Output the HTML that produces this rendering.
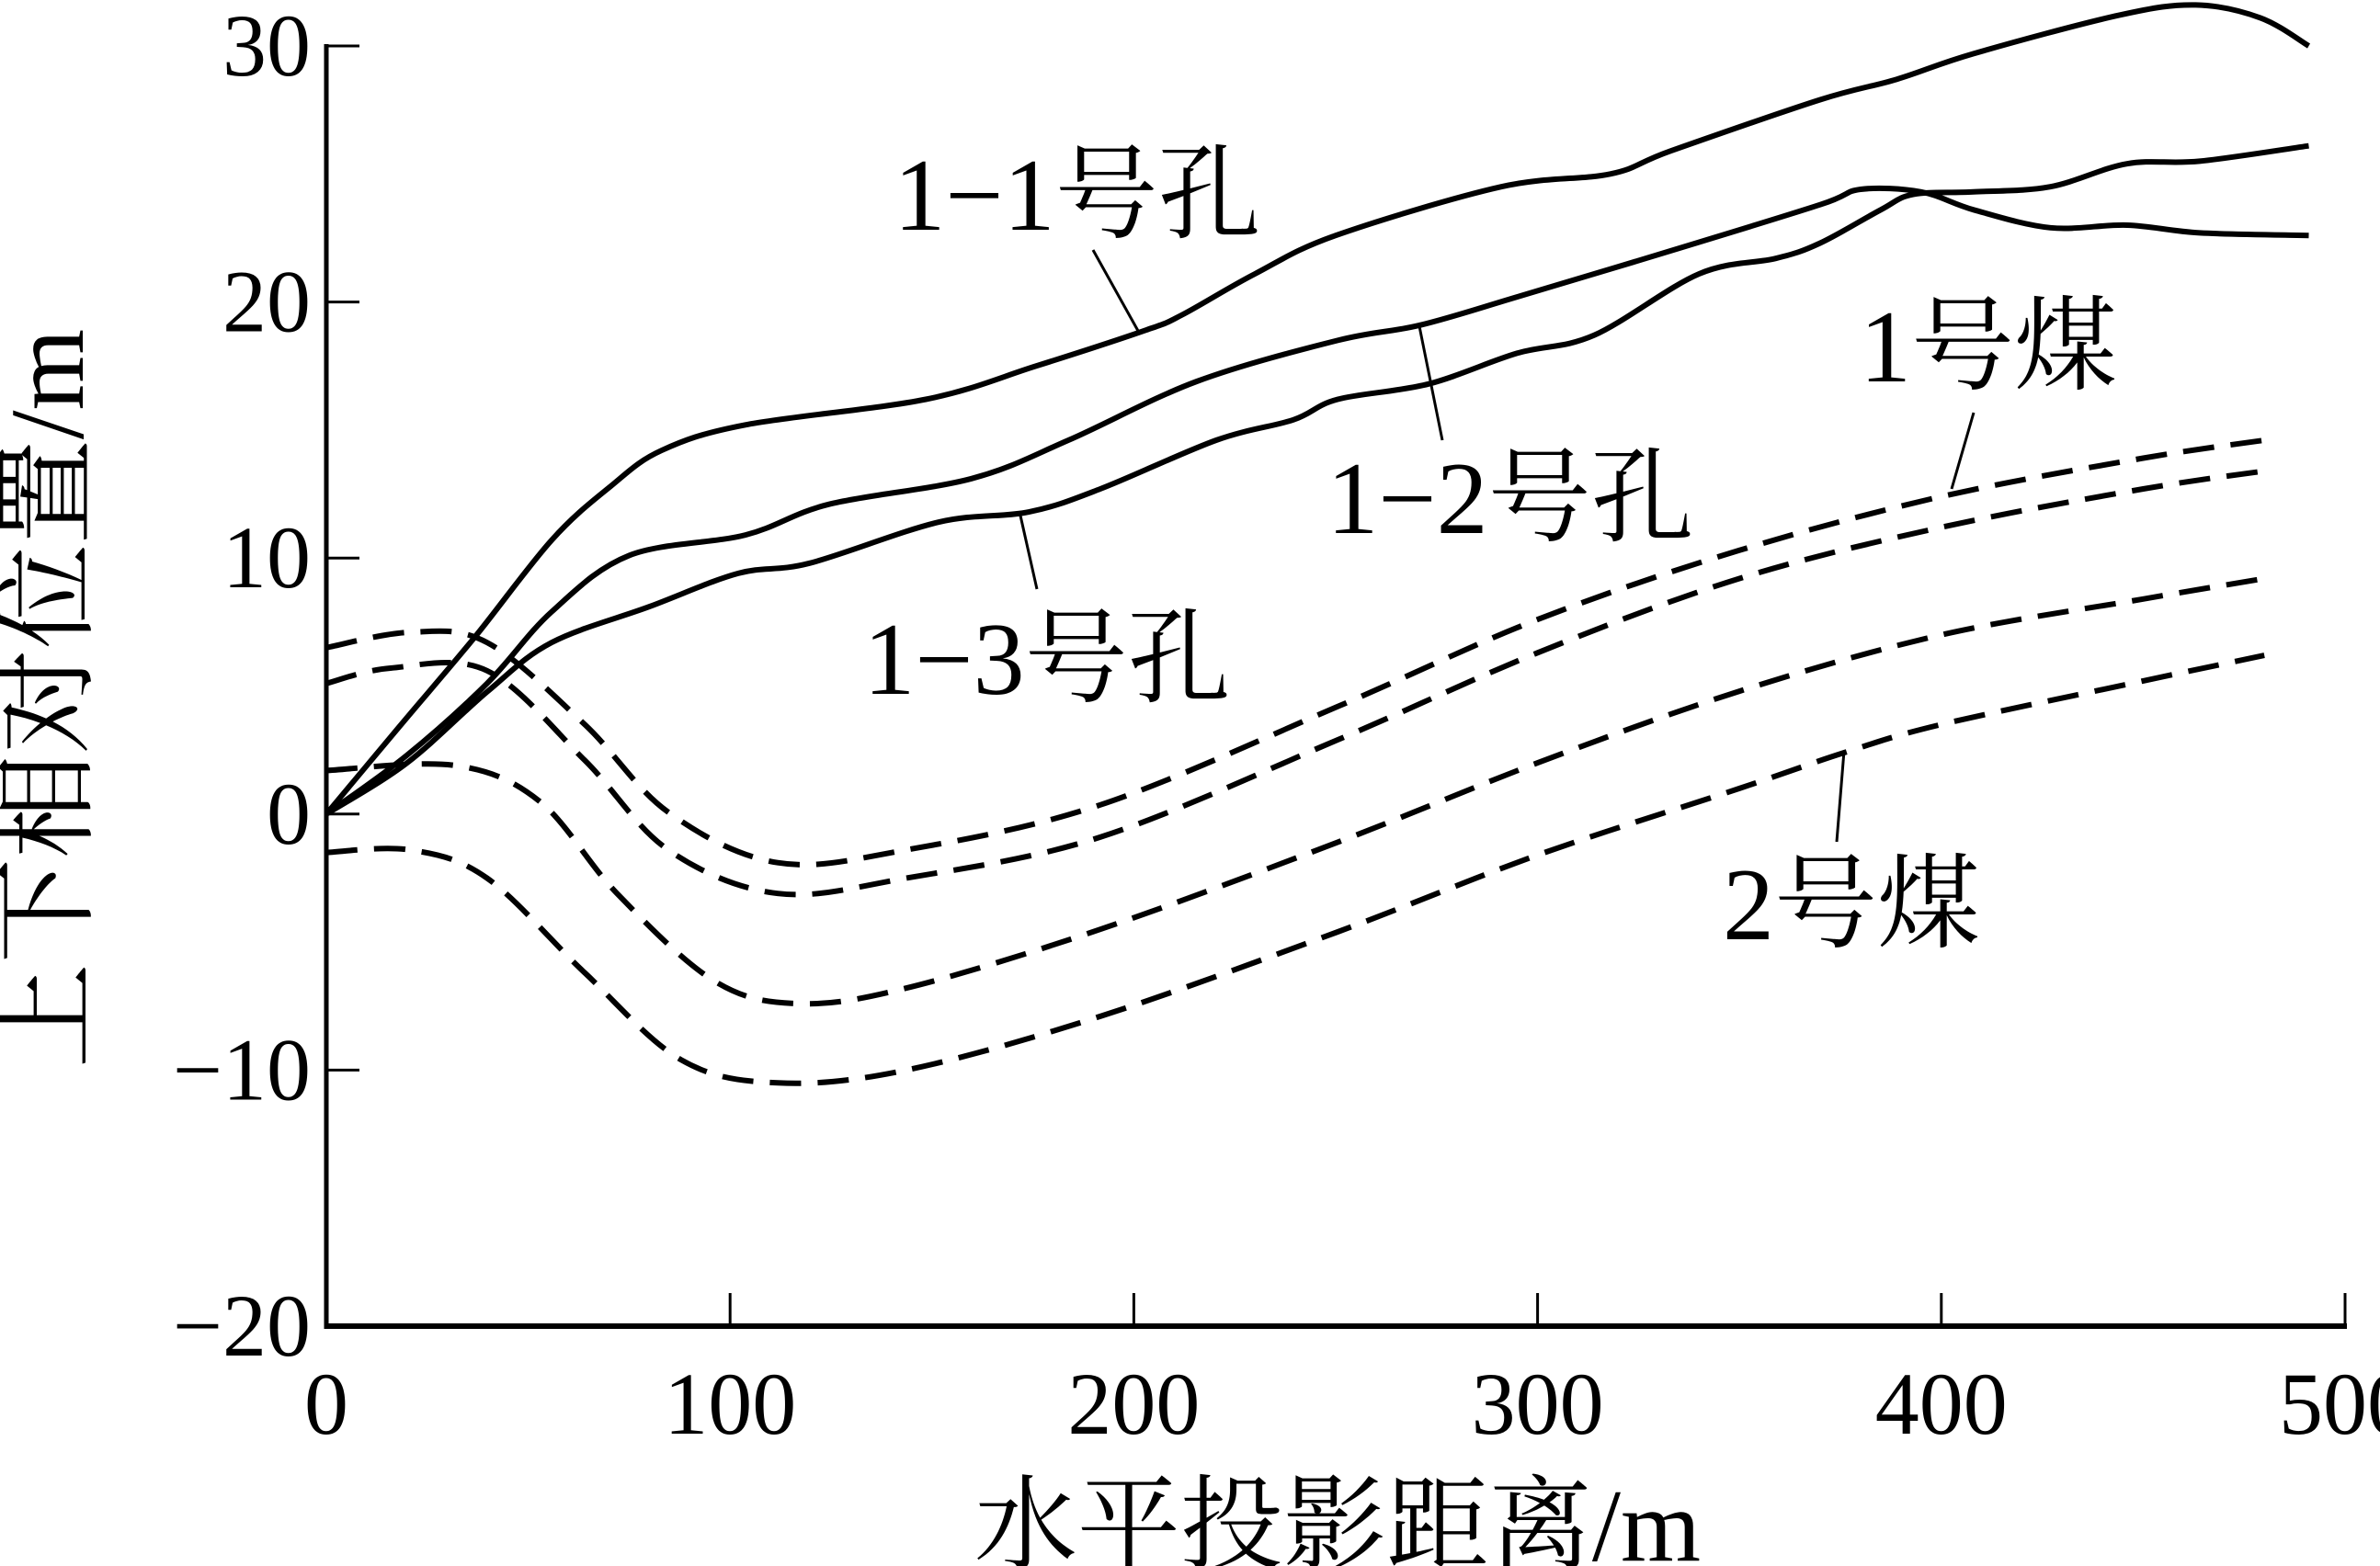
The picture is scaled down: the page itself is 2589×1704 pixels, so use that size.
<!DOCTYPE html>
<html><head><meta charset="utf-8"><style>
html,body{margin:0;padding:0;background:#fff;}
svg{display:block;}
text{font-family:"Liberation Serif","Noto Serif CJK SC","Noto Sans CJK SC",serif;fill:#000;}
</style></head><body>
<svg id="chart" width="2589" height="1704" viewBox="0 0 2589 1704" xmlns="http://www.w3.org/2000/svg">
<g id="axes"></g>
<g id="series"></g>
<g id="labels"></g>
</svg>
<script>
const xTicks=[0,100,200,300,400,500];
const yTicks=[30,20,10,0,-10,-20];
const yTickLabels=["30","20","10","0","\u221210","\u221220"];
const hole11X=[0,18,36.7,55.8,70.4,83,103.8,148.5,175.8,203,212,230,250,291,318,333,370,389,408,444,463,479,491];
const hole11Y=[0,3.4,6.9,10.7,12.8,14.2,15.2,16.2,17.5,18.9,19.5,21.1,22.6,24.5,25,25.9,27.9,28.7,29.7,31.2,31.6,31.1,30];
const hole12X=[0,20,39.8,55.8,75,103.8,124.5,159.8,183.8,215.6,250.5,271,295,333,370,380,395,408,427,446,464,491];
const hole12Y=[0,2.3,5.1,7.9,10.1,10.9,12.1,13.1,14.6,16.9,18.5,19.1,20.2,22,23.8,24.4,24.3,23.6,22.9,23,22.7,22.6];
const hole13X=[0,20,40,55.8,80,102,119.7,151.6,174,191.7,220.4,239.5,250.5,273,295,314,340,359,370,385,393,408,427,446,464,491];
const hole13Y=[0,2.0,4.8,6.7,8.1,9.4,9.8,11.4,11.8,12.7,14.6,15.4,16.2,16.8,18,18.7,21.1,21.7,22.3,23.6,24.2,24.3,24.5,25.4,25.5,26.1];
const coalAX=[0,20.7,39.8,64,84.7,111.8,143.6,191.7,250.5,300,350,400,450,480];
const coalAY=[6.5,7.1,6.7,3.5,0.07,-1.9,-1.4,0.36,4.2,7.6,10.3,12.4,13.9,14.6];
const coalBX=[0,15.9,39.8,64,84.7,111.8,143.6,191.7,250.5,300,350,400,450,480];
const coalBY=[5.1,5.7,5.6,2.1,-1.4,-3.1,-2.5,-0.9,2.9,6.3,9.2,11.2,12.7,13.4];
const coalCX=[0,31.8,52.8,72,95.9,116.6,143.6,191.7,250.5,300,350,400,450,480];
const coalCY=[1.7,1.9,0.5,-3.1,-6.5,-7.4,-6.8,-4.5,-1.1,2.0,4.8,7.0,8.4,9.2];
const coalDX=[0,20.7,39.8,64,87.9,111.8,143.6,191.7,250.5,300,350,376,400,450,480];
const coalDY=[-1.5,-1.4,-2.5,-6.2,-9.6,-10.5,-10.0,-7.9,-4.6,-1.6,1.0,2.4,3.5,5.2,6.2];

const NS="http://www.w3.org/2000/svg";
const X0=355,XS=4.392,Y0=1443,YS=27.86;
function xs(v){return X0+v*XS;}
function ys(v){return Y0-(v+20)*YS;}
function mk(tag,attrs,parent){const e=document.createElementNS(NS,tag);for(const k in attrs)e.setAttribute(k,attrs[k]);parent.appendChild(e);return e;}
const axes=document.getElementById('axes'),series=document.getElementById('series'),labels=document.getElementById('labels');

const yAxis=mk('line',{x1:xs(0),y1:ys(30)-2,x2:xs(0),y2:ys(-20)+3,stroke:'#000','stroke-width':5},axes);


const xAxis=mk('line',{x1:xs(0)-2,y1:ys(-20),x2:xs(500)+2,y2:ys(-20),stroke:'#000','stroke-width':6},axes);


xTicks.forEach((t)=>{
  if(t>0){const l=mk('line',{x1:xs(t),y1:ys(-20),x2:xs(t),y2:ys(-20)-36,stroke:'#000','stroke-width':3},axes);
  
  }
  const tx=mk('text',{x:xs(t),y:1560,'font-size':96,'text-anchor':'middle'},axes);tx.textContent=String(t);
  
  
});
yTicks.forEach((t,i)=>{
  if(t>-20){const l=mk('line',{x1:xs(0),y1:ys(t),x2:xs(0)+36,y2:ys(t),stroke:'#000','stroke-width':3},axes);
  
  }
  const tx=mk('text',{x:338,y:ys(t)+32,'font-size':96,'text-anchor':'end'},axes);tx.textContent=yTickLabels[i];
  
  
});
const xt=mk('text',{x:1455,y:1698,'font-size':112,'text-anchor':'middle'},axes);xt.textContent='水平投影距离/m';


const yt=mk('text',{x:0,y:0,'font-size':114,'text-anchor':'middle',transform:'translate(90,760) rotate(-90)'},axes);yt.textContent='上下相对位置/m';



function pathD(X,Y){
  const p=X.map((x,i)=>[xs(x),ys(Y[i])]);
  let d='M'+p[0][0].toFixed(1)+','+p[0][1].toFixed(1);
  for(let i=0;i<p.length-1;i++){
    const p0=p[i-1]||p[i],p1=p[i],p2=p[i+1],p3=p[i+2]||p2;
    const c1=[p1[0]+(p2[0]-p0[0])/6,p1[1]+(p2[1]-p0[1])/6];
    const c2=[p2[0]-(p3[0]-p1[0])/6,p2[1]-(p3[1]-p1[1])/6];
    d+=' C'+c1[0].toFixed(1)+','+c1[1].toFixed(1)+' '+c2[0].toFixed(1)+','+c2[1].toFixed(1)+' '+p2[0].toFixed(1)+','+p2[1].toFixed(1);
  }
  return d;
}
const defs=[[hole11X,hole11Y,'hole-1-1-line',false],[hole12X,hole12Y,'hole-1-2-line',false],[hole13X,hole13Y,'hole-1-3-line',false],
[coalAX,coalAY,'coal-1-upper-line',true],[coalBX,coalBY,'coal-1-lower-line',true],[coalCX,coalCY,'coal-2-upper-line',true],[coalDX,coalDY,'coal-2-lower-line',true]];
defs.forEach(s=>{
  const a={d:pathD(s[0],s[1]),fill:'none',stroke:'#000','stroke-width':6,'stroke-linejoin':'round'};
  if(s[3]){a['stroke-dasharray']='34 18';}
  const e=mk('path',a,series);
  
  
});
const anns=[['1\u22121号孔',1172,250,1189,272,1238,360,'hole-1-1-label'],
['1\u22122号孔',1643,580,1544,355,1569,479,'hole-1-2-label'],
['1\u22123号孔',1139,755,1110,561,1128,641,'hole-1-3-label'],
['1号煤',2163,415,2147,449,2123,532,'coal-1-label'],
['2号煤',2014,1022,2006,817,1998,916,'coal-2-label']];
anns.forEach(a=>{
  const t=mk('text',{x:a[1],y:a[2],'font-size':112,'text-anchor':'middle'},labels);t.textContent=a[0];
  
  
  const l=mk('line',{x1:a[3],y1:a[4],x2:a[5],y2:a[6],stroke:'#000','stroke-width':3},labels);
  
  
});
</script>
</body></html>
